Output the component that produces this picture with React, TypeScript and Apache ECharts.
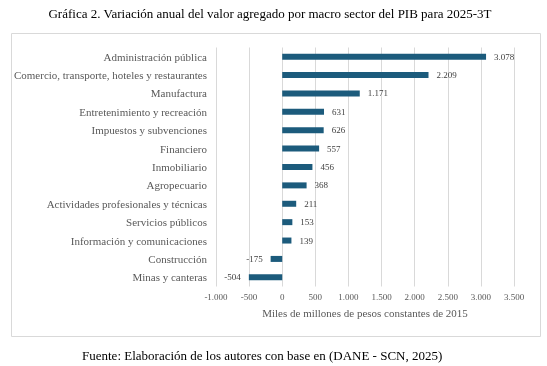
import React, { useEffect, useRef } from "react";
import * as echarts from "echarts";

const categories = [
  "Administración pública",
  "Comercio, transporte, hoteles y restaurantes",
  "Manufactura",
  "Entretenimiento y recreación",
  "Impuestos y subvenciones",
  "Financiero",
  "Inmobiliario",
  "Agropecuario",
  "Actividades profesionales y técnicas",
  "Servicios públicos",
  "Información y comunicaciones",
  "Construcción",
  "Minas y canteras",
];
const values = [3078, 2209, 1171, 631, 626, 557, 456, 368, 211, 153, 139, -175, -504];

const titleText = "Gráfica 2. Variación anual del valor agregado por macro sector del PIB para 2025-3T";
const axisName = "Miles de millones de pesos constantes de 2015";
const sourceText = "Fuente: Elaboración de los autores con base en (DANE - SCN, 2025)";

const fmt = (v: number) => {
  const s = Math.abs(v).toString().replace(/\B(?=(\d{3})+(?!\d))/g, ".");
  return (v < 0 ? "-" : "") + s;
};

const FONT = "Liberation Serif";

export default function App() {
  const ref = useRef<HTMLDivElement>(null);
  useEffect(() => {
    const chart = echarts.init(ref.current!, null, { renderer: "svg" });
    chart.setOption({
      animation: false,
      graphic: [
        {
          type: "rect",
          shape: { x: 11.5, y: 33.5, width: 529, height: 303 },
          style: { fill: "none", stroke: "#d9d9d9", lineWidth: 1 },
          silent: true,
        },
        {
          type: "text",
          x: 270,
          y: 7,
          style: {
            text: titleText,
            font: "13px Liberation Serif",
            fill: "#000000",
            textAlign: "center",
          },
        },
        {
          type: "text",
          x: 82,
          y: 349,
          style: {
            text: sourceText,
            fontFamily: FONT,
            fontSize: 13,
            fill: "#000000",
          },
        },
      ],
      grid: { left: 216, right: 33, top: 47.5, bottom: 79.5, containLabel: false },
      xAxis: {
        type: "value",
        min: -1000,
        max: 3500,
        interval: 500,
        axisLine: { show: false },
        axisTick: { show: false },
        splitLine: { show: true, lineStyle: { color: "#d9d9d9", width: 1 } },
        axisLabel: {
          formatter: (v: number) => fmt(v),
          color: "#595959",
          fontFamily: FONT,
          fontSize: 9,
          margin: 6,
        },
        name: axisName,
        nameLocation: "middle",
        nameGap: 21,
        nameTextStyle: { color: "#595959", fontFamily: FONT, fontSize: 11 },
      },
      yAxis: {
        type: "category",
        data: categories,
        inverse: true,
        axisLine: { show: false },
        axisTick: { show: false },
        splitLine: { show: false },
        axisLabel: {
          color: "#595959",
          fontFamily: FONT,
          fontSize: 11,
          margin: 9,
        },
      },
      series: [
        {
          type: "bar",
          data: values.map((v) => ({
            value: v,
            label: {
              show: true,
              position: v < 0 ? "left" : "right",
              distance: 8,
              formatter: () => fmt(v),
              color: "#404040",
              fontFamily: FONT,
              fontSize: 9,
            },
          })),
          barWidth: 6,
          itemStyle: { color: "#1c5b7c" },
        },
      ],
    });
    return () => chart.dispose();
  }, []);
  return (
    <div
      ref={ref}
      style={{ position: "fixed", left: 0, top: 0, width: 547, height: 366 }}
    />
  );
}
